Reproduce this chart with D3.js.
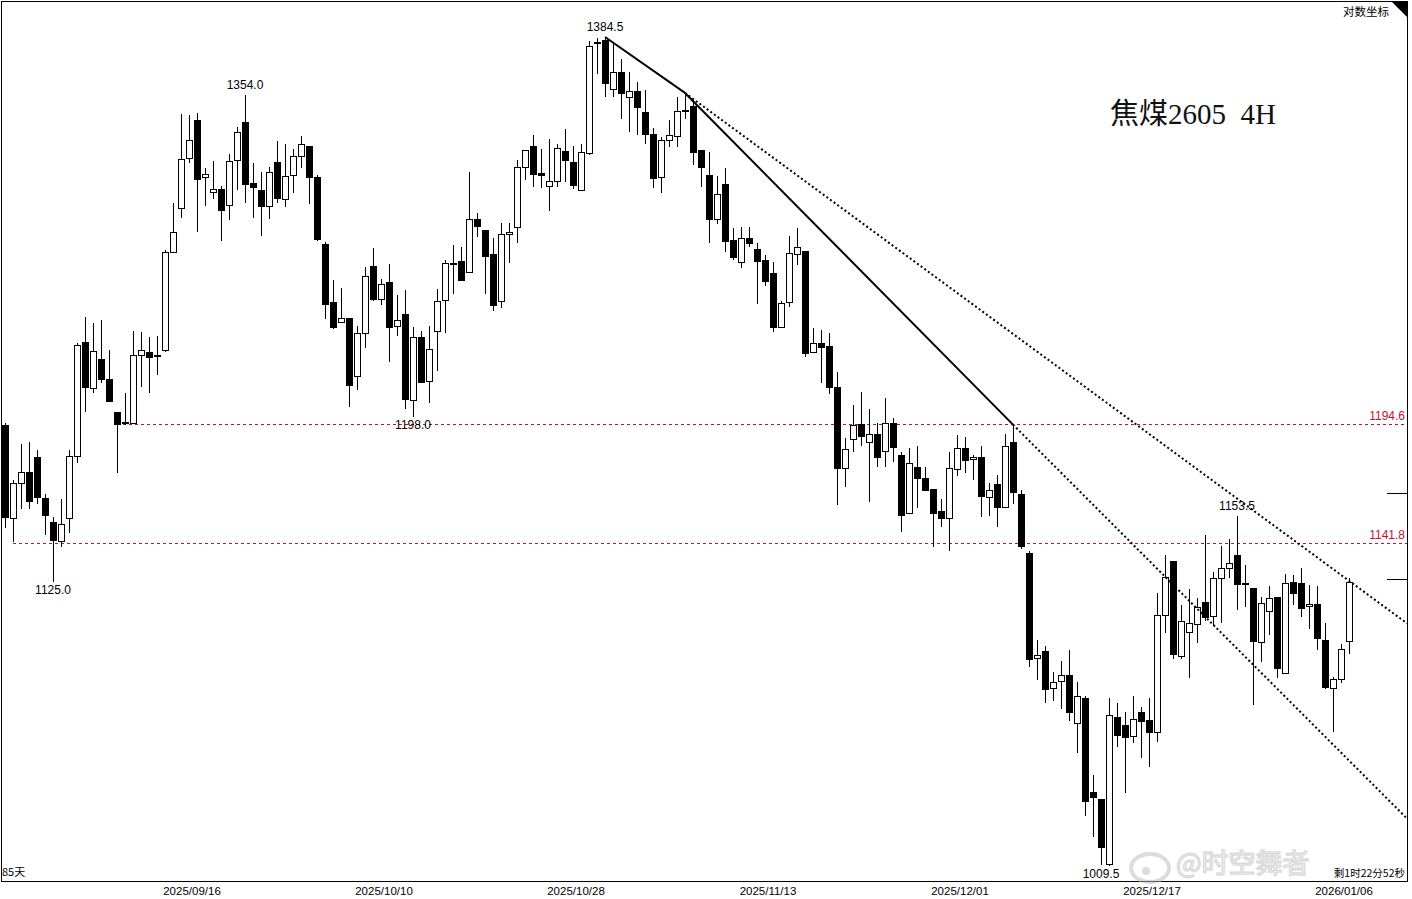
<!DOCTYPE html>
<html><head><meta charset="utf-8">
<script src="https://cdn.jsdelivr.net/npm/d3@7"></script>
<style>body{margin:0;background:#fff}svg{display:block}</style>
</head><body>
<svg id="c" width="1412" height="899"></svg>
<script>
// OHLC of 4H candles (焦煤2605)
const opens=[1194.0,1152.7,1168.2,1173.2,1179.9,1161.5,1151.0,1142.7,1152.7,1180.4,1232.8,1211.3,1224.8,1215.5,1200.3,1195.5,1195.3,1226.7,1228.1,1226.7,1229.0,1275.8,1297.2,1321.8,1341.6,1312.7,1305.1,1306.6,1298.7,1321.3,1340.6,1309.7,1306.1,1298.2,1320.3,1301.6,1313.2,1323.4,1328.4,1312.7,1279.7,1251.5,1242.1,1244.0,1216.9,1237.0,1268.9,1252.9,1261.2,1240.3,1245.9,1205.7,1235.1,1214.6,1237.5,1252.4,1270.1,1271.1,1266.0,1291.8,1286.5,1274.8,1251.9,1284.5,1287.9,1317.8,1328.4,1314.8,1308.2,1310.7,1325.4,1320.3,1306.1,1324.9,1381.9,1382.9,1357.4,1366.3,1353.2,1356.3,1345.6,1334.5,1312.2,1331.0,1333.5,1346.6,1348.7,1325.9,1313.7,1291.8,1309.2,1281.6,1270.9,1282.6,1277.2,1271.9,1265.5,1239.8,1251.5,1274.8,1276.3,1228.1,1232.3,1230.5,1211.8,1175.0,1188.1,1194.9,1186.7,1190.3,1182.7,1195.3,1180.8,1154.9,1175.4,1170.4,1165.5,1155.7,1152.7,1174.5,1184.0,1179.0,1179.9,1161.9,1167.7,1157.5,1186.3,1163.3,1137.5,1093.0,1095.5,1080.2,1083.1,1085.7,1066.2,1076.2,1038.4,1035.6,1010.3,1068.6,1065.4,1060.9,1070.6,1067.4,1062.5,1110.9,1133.7,1093.8,1103.8,1107.2,1116.3,1110.1,1126.4,1130.7,1136.3,1124.4,1122.2,1099.6,1112.6,1118.5,1086.7,1124.8,1124.4,1114.7,1115.5,1100.1,1080.4,1084.2,1099.6];
const highs=[1195.3,1169.5,1185.8,1186.3,1183.1,1163.3,1153.1,1161.0,1183.1,1232.3,1244.5,1241.7,1243.1,1229.0,1200.3,1209.0,1237.9,1237.5,1235.1,1235.6,1276.8,1299.6,1344.6,1344.1,1345.1,1317.3,1320.8,1308.2,1323.9,1338.0,1354.0,1319.8,1315.3,1317.8,1330.5,1329.4,1326.9,1333.0,1328.4,1313.7,1280.6,1262.1,1258.2,1244.0,1240.3,1268.5,1277.7,1262.6,1269.8,1254.8,1257.3,1239.8,1237.9,1240.3,1257.8,1271.6,1279.2,1278.2,1315.3,1294.8,1286.5,1282.6,1289.9,1289.9,1321.3,1326.4,1334.0,1326.9,1331.5,1329.4,1337.0,1328.4,1329.4,1382.4,1384.0,1384.5,1380.9,1373.0,1366.3,1361.1,1356.9,1337.5,1332.5,1341.6,1353.2,1355.3,1351.7,1325.9,1324.9,1313.2,1317.3,1287.5,1287.9,1287.9,1280.1,1274.3,1270.9,1251.9,1283.6,1287.5,1276.3,1239.3,1238.4,1237.0,1218.8,1188.5,1203.4,1209.4,1201.6,1195.3,1206.6,1197.6,1182.2,1184.0,1184.9,1175.4,1165.5,1161.0,1182.2,1189.9,1189.0,1180.8,1184.5,1168.2,1171.8,1190.3,1194.4,1165.0,1138.4,1100.1,1097.6,1086.9,1091.7,1096.3,1082.7,1077.1,1045.3,1035.6,1076.2,1074.2,1070.6,1077.1,1072.6,1076.2,1120.2,1136.7,1133.7,1115.1,1122.0,1118.1,1145.3,1129.3,1140.6,1143.6,1153.5,1132.4,1122.2,1118.5,1123.1,1118.5,1128.4,1127.9,1130.7,1123.5,1123.1,1107.6,1084.9,1098.8,1126.4];
const lows=[1148.4,1142.3,1156.6,1156.6,1158.8,1145.3,1125.0,1140.1,1146.2,1177.2,1200.3,1209.0,1213.6,1205.2,1172.7,1194.4,1195.3,1211.8,1209.0,1217.0,1228.1,1275.8,1292.3,1319.8,1285.5,1298.2,1301.6,1281.1,1291.4,1306.1,1299.6,1292.3,1283.6,1291.8,1299.6,1297.7,1304.6,1317.3,1299.2,1281.1,1243.5,1238.9,1242.1,1202.5,1210.4,1230.0,1251.9,1250.1,1223.4,1235.6,1201.6,1198.0,1214.1,1204.3,1218.9,1237.0,1255.3,1262.1,1266.0,1283.1,1255.3,1247.3,1248.7,1270.1,1280.1,1311.2,1307.7,1307.1,1295.7,1307.7,1310.2,1306.6,1306.1,1323.4,1365.2,1353.2,1353.2,1342.1,1335.5,1334.0,1329.4,1307.1,1304.6,1327.9,1327.9,1342.1,1318.8,1307.7,1280.1,1289.4,1275.8,1271.9,1268.0,1278.2,1250.5,1259.2,1237.5,1239.8,1249.1,1269.4,1225.8,1228.1,1213.6,1208.5,1158.3,1166.4,1182.2,1184.5,1159.6,1175.4,1175.4,1177.7,1146.6,1154.4,1157.0,1165.0,1140.1,1148.8,1138.4,1171.3,1172.7,1169.5,1153.1,1153.6,1148.8,1157.5,1158.8,1139.3,1089.2,1083.8,1074.2,1075.0,1071.8,1067.0,1054.1,1029.0,1020.8,1009.9,1009.5,1056.5,1038.0,1058.1,1052.1,1048.5,1058.5,1103.4,1092.5,1092.5,1084.6,1099.2,1108.4,1106.3,1107.6,1126.8,1113.0,1114.3,1073.4,1091.3,1102.2,1084.6,1086.7,1115.1,1110.1,1105.1,1095.9,1080.0,1062.5,1082.3,1094.6];
const closes=[1152.7,1168.2,1173.2,1160.1,1161.9,1154.0,1143.2,1150.1,1180.4,1231.4,1211.8,1228.6,1215.5,1205.2,1194.9,1195.0,1226.7,1229.0,1225.7,1226.5,1275.8,1285.5,1321.8,1331.0,1311.7,1314.3,1306.6,1296.2,1320.8,1335.5,1309.2,1307.7,1298.2,1315.3,1302.1,1313.2,1322.9,1329.4,1312.7,1282.1,1251.0,1239.8,1244.0,1212.7,1237.0,1264.0,1252.9,1260.2,1239.8,1243.1,1206.2,1235.1,1214.1,1229.5,1251.9,1270.1,1269.9,1262.1,1291.8,1288.4,1273.8,1250.5,1284.5,1285.5,1317.8,1326.4,1314.3,1313.7,1310.7,1327.4,1320.8,1308.7,1324.9,1379.8,1381.6,1360.5,1366.3,1355.3,1356.3,1348.2,1334.5,1312.2,1331.0,1333.5,1346.1,1346.4,1325.4,1317.3,1291.8,1304.1,1281.1,1273.3,1282.6,1280.1,1271.4,1261.6,1239.8,1251.0,1275.3,1278.2,1227.6,1232.3,1230.5,1211.3,1175.0,1183.5,1194.4,1189.4,1190.3,1179.9,1195.3,1184.5,1154.0,1177.2,1170.4,1165.0,1154.9,1152.7,1175.0,1184.0,1178.6,1179.9,1162.3,1165.0,1157.5,1184.9,1163.7,1140.6,1092.5,1094.2,1079.8,1082.7,1085.7,1070.6,1077.1,1034.8,1036.4,1016.9,1069.4,1061.3,1060.5,1067.8,1067.0,1062.5,1110.9,1127.2,1094.2,1108.4,1107.6,1114.3,1110.1,1126.4,1130.7,1132.9,1123.9,1124.2,1099.6,1115.9,1118.1,1088.8,1124.4,1120.2,1113.9,1115.5,1101.3,1080.4,1084.2,1096.7,1124.8];
const dateLabels=["2025/09/16","2025/10/10","2025/10/28","2025/11/13","2025/12/01","2025/12/17","2026/01/06"];
const dateIdx=[23,47,71,95,119,143,167];
const hLevels=[1194.6,1141.8];
const hStart=[14,1];
const markerLevels=[1163.6,1126.0];
const peakIdx=[6,30,51,75,137,154];
const peakVal=[1125.0,1354.0,1198.0,1384.5,1009.5,1153.5];
const peakPos=["below","above","below","above","below","above"];
const trendIdxA=[75,85,85,126];
const trendValA=[1384.5,1355.3,1355.3,1194.4];
const trendIdxB=[85,126,168,168];
const trendValB=[1355.3,1194.4,1125.4,1050.9];
const trendDotted=[false,false,true,true];

const svg=d3.select("#c");
const L=1,R=1407,T=1,B=881;
const x=d3.scaleLinear().domain([0,168]).range([5,1349]);
const y=d3.scaleLog().domain([1009.5,1384.5]).range([866,37]);
const n=opens.length;
const data=d3.range(n).map(i=>({i,o:opens[i],h:highs[i],l:lows[i],c:closes[i]}));

svg.append("rect").attr("x",L+0.5).attr("y",T+0.5).attr("width",R-L).attr("height",B-T).attr("fill","#fff").attr("stroke","#000");
svg.append("path").attr("d",`M${R-16},${T} L${R},${T} L${R},${T+16}Z`).attr("fill","#000");

const g=svg.append("g").attr("shape-rendering","crispEdges");
hLevels.forEach((v,k)=>{
  const yy=Math.round(y(v))+0.5;
  g.append("line").attr("x1",x(hStart[k])).attr("x2",R).attr("y1",yy).attr("y2",yy)
   .attr("stroke","#c8102e").attr("stroke-dasharray","3,3");
  svg.append("text").attr("x",R-2).attr("y",yy-5).attr("text-anchor","end")
   .attr("font-family","Liberation Sans, Arial").attr("font-size",12).attr("fill","#c8102e").text(v.toFixed(1));
});
data.forEach(d=>{
  const cx=Math.round(x(d.i))+0.5;
  g.append("line").attr("x1",cx).attr("x2",cx).attr("y1",y(d.h)).attr("y2",y(d.l)).attr("stroke","#000");
  const top=y(Math.max(d.o,d.c)),bot=y(Math.min(d.o,d.c));
  const up=d.c>d.o;
  g.append("rect").attr("x",cx-3).attr("y",Math.round(top)+0.5).attr("width",6).attr("height",Math.max(1,Math.round(bot-top)))
   .attr("fill",up?"#fff":"#000").attr("stroke","#000");
});
const lg=svg.append("g");
trendIdxA.forEach((a,k)=>{
  let x1=x(a),y1=y(trendValA[k]),x2=x(trendIdxB[k]),y2=y(trendValB[k]);
  if(trendDotted[k]){const s=(y2-y1)/(x2-x1);x2=R;y2=y1+s*(R-x1);}
  lg.append("line").attr("x1",x1).attr("y1",y1).attr("x2",x2).attr("y2",y2)
   .attr("stroke","#000").attr("stroke-width",2)
   .attr("stroke-dasharray",trendDotted[k]?"2,2.5":null);
});
markerLevels.forEach(v=>{const yy=Math.round(y(v))+0.5;
  g.append("line").attr("x1",R-20).attr("x2",R).attr("y1",yy).attr("y2",yy).attr("stroke","#000");});
peakIdx.forEach((pi,k)=>{
  const above=peakPos[k]==="above";
  svg.append("text").attr("x",x(pi)).attr("y",above?y(peakVal[k])-6:y(peakVal[k])+12)
   .attr("text-anchor","middle").attr("font-family","Liberation Sans, Arial").attr("font-size",12)
   .attr("fill","#000").text(peakVal[k].toFixed(1));
});
dateLabels.forEach((t,k)=>{
  svg.append("text").attr("x",x(dateIdx[k])+3).attr("y",895).attr("text-anchor","middle")
   .attr("font-family","Liberation Sans, Arial").attr("font-size",11.5).attr("fill","#000").text(t);
});
svg.append("text").attr("x",2).attr("y",876).attr("font-family","Noto Sans CJK SC").attr("font-size",11).text("85天");
svg.append("text").attr("x",R-18).attr("y",16).attr("text-anchor","end").attr("font-family","Noto Sans CJK SC").attr("font-size",11.5).text("对数坐标");
svg.append("text").attr("x",1110).attr("y",124).attr("font-family","Liberation Serif, Noto Sans CJK SC").attr("font-size",29).attr("fill","#111").text("焦煤2605\u00a0\u00a04H");
// watermark
const wm=svg.append("g").attr("opacity",0.5);
wm.append("ellipse").attr("cx",1150).attr("cy",868).attr("rx",19).attr("ry",14).attr("fill","none").attr("stroke","#bbb").attr("stroke-width",4);
wm.append("circle").attr("cx",1146).attr("cy",871).attr("r",4).attr("fill","#bbb");
wm.append("text").attr("x",1176).attr("y",873).attr("font-family","Noto Sans CJK SC").attr("font-size",27).attr("fill","#fff").attr("stroke","#bbb").attr("stroke-width",1.5).text("@时空舞者");
svg.append("text").attr("x",R-2).attr("y",877).attr("text-anchor","end").attr("font-family","Noto Sans CJK SC").attr("font-size",10.5).text("剩1时22分52秒");
</script>
</body></html>
